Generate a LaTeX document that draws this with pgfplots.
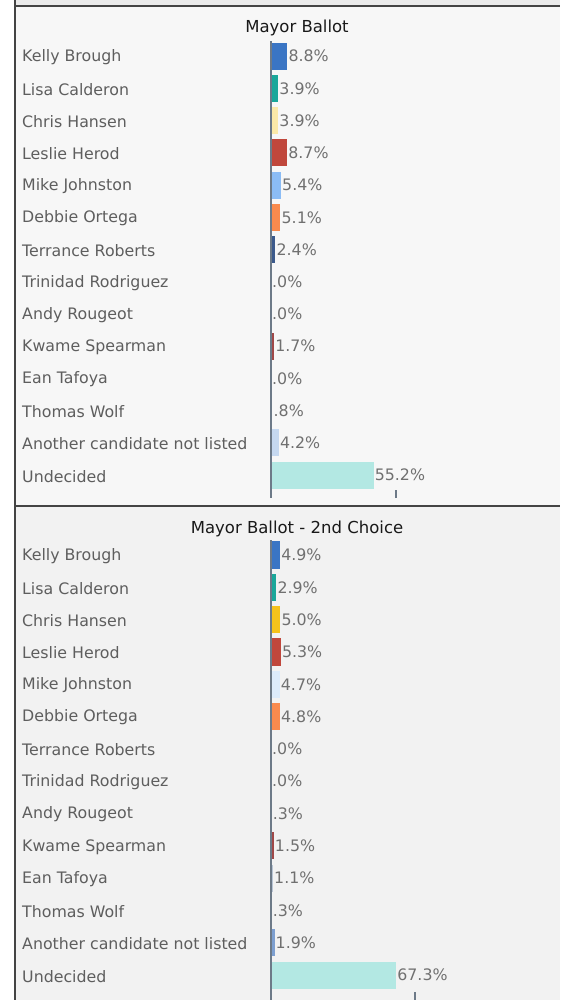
\documentclass[border=0pt]{standalone}
\usepackage{pgfplots}
\pgfplotsset{compat=1.18}
\usepackage{fontspec}
\setmainfont{DejaVu Sans}
\definecolor{cKB}{HTML}{3A75C4}
\definecolor{cLC}{HTML}{1AA79A}
\definecolor{cCH}{HTML}{FBE9A8}
\definecolor{cCH2}{HTML}{F5C21B}
\definecolor{cLH}{HTML}{C0473C}
\definecolor{cMJ}{HTML}{8BBCF5}
\definecolor{cMJ2}{HTML}{DCEBFB}
\definecolor{cDO}{HTML}{F98A4E}
\definecolor{cTR}{HTML}{3C5A8C}
\definecolor{cKS}{HTML}{A04848}
\definecolor{cET}{HTML}{B8C4D4}
\definecolor{cTW}{HTML}{C8C8C8}
\definecolor{cAC}{HTML}{C5D8F0}
\definecolor{cAC2}{HTML}{7D9FD0}
\definecolor{cUN}{HTML}{B3E8E3}
\definecolor{lbl}{HTML}{5E5E5E}
\definecolor{vlbl}{HTML}{707070}
\definecolor{axgray}{HTML}{6D7A88}
\definecolor{frame}{HTML}{444444}
\pgfplotsset{
  panel/.style={
    scale only axis, width=279pt,
    xmin=0, xmax=150, y dir=reverse,
    axis line style={draw=none},
    xtick=\empty,
    ytick={0,...,13},
    yticklabels={Kelly Brough,Lisa Calderon,Chris Hansen,Leslie Herod,Mike Johnston,Debbie Ortega,Terrance Roberts,Trinidad Rodriguez,Andy Rougeot,Kwame Spearman,Ean Tafoya,Thomas Wolf,Another candidate not listed,Undecided},
    ytick style={draw=none},
    yticklabel style={anchor=west, xshift=-249pt, yshift=-1pt, inner sep=0pt, font=\fontsize{15.8}{18}\selectfont, text=lbl},
    clip=false,
  },
  bar/.style={xbar, bar width=0.84, bar shift=0pt, draw=none, fill=#1,
    nodes near coords, point meta=explicit symbolic,
    every node near coord/.append style={anchor=west, inner sep=1pt, font=\fontsize{15.8}{18}\selectfont, text=vlbl}},
}
\begin{document}
\begin{tikzpicture}[x=1pt,y=1pt]
\useasboundingbox (0,0) rectangle (560,-1000);
\fill[white] (0,0) rectangle (560,-1000);
\fill[black!8] (15,0) rectangle (560,-6);
\fill[black!3] (15,-6) rectangle (560,-506);
\fill[black!5] (15,-506) rectangle (560,-1000);
\draw[frame, line width=2pt] (15,0) -- (15,-1000);
\draw[frame, line width=2pt] (15,-6) -- (560,-6);
\draw[frame, line width=2pt] (15,-506) -- (560,-506);
\node[font=\fontsize{16.5}{19}\selectfont, text=black!90, anchor=base] at (297,-33) {Mayor Ballot};
\node[font=\fontsize{16.5}{19}\selectfont, text=black!90, anchor=base] at (297,-533) {Mayor Ballot - 2nd Choice};

\begin{axis}[panel, at={(271pt,-41pt)}, anchor=north west, height=457pt, ymin=-0.47, ymax=13.71]
\addplot[bar=cKB] coordinates {(8.8,0) [8.8\%]};
\addplot[bar=cLC] coordinates {(3.9,1) [3.9\%]};
\addplot[bar=cCH] coordinates {(3.9,2) [3.9\%]};
\addplot[bar=cLH] coordinates {(8.7,3) [8.7\%]};
\addplot[bar=cMJ] coordinates {(5.4,4) [5.4\%]};
\addplot[bar=cDO] coordinates {(5.1,5) [5.1\%]};
\addplot[bar=cTR] coordinates {(2.4,6) [2.4\%]};
\addplot[bar=cTW] coordinates {(0,7) [.0\%]};
\addplot[bar=cTW] coordinates {(0,8) [.0\%]};
\addplot[bar=cKS] coordinates {(1.7,9) [1.7\%]};
\addplot[bar=cET] coordinates {(0,10) [.0\%]};
\addplot[bar=cTW] coordinates {(0.8,11) [.8\%]};
\addplot[bar=cAC] coordinates {(4.2,12) [4.2\%]};
\addplot[bar=cUN] coordinates {(55.2,13) [55.2\%]};
\draw[axgray, line width=2pt] (axis cs:0,-0.47) -- (axis cs:0,13.71);
\draw[axgray, line width=1.5pt] (axis cs:67.2,13.71) -- ++(0pt,8pt);
\end{axis}

\begin{axis}[panel, at={(271pt,-540pt)}, anchor=north west, height=460pt, ymin=-0.464, ymax=13.77]
\addplot[bar=cKB] coordinates {(4.9,0) [4.9\%]};
\addplot[bar=cLC] coordinates {(2.9,1) [2.9\%]};
\addplot[bar=cCH2] coordinates {(5.0,2) [5.0\%]};
\addplot[bar=cLH] coordinates {(5.3,3) [5.3\%]};
\addplot[bar=cMJ2] coordinates {(4.7,4) [4.7\%]};
\addplot[bar=cDO] coordinates {(4.8,5) [4.8\%]};
\addplot[bar=cTR] coordinates {(0,6) [.0\%]};
\addplot[bar=cTW] coordinates {(0,7) [.0\%]};
\addplot[bar=cTW] coordinates {(0.3,8) [.3\%]};
\addplot[bar=cKS] coordinates {(1.5,9) [1.5\%]};
\addplot[bar=cET] coordinates {(1.1,10) [1.1\%]};
\addplot[bar=cTW] coordinates {(0.3,11) [.3\%]};
\addplot[bar=cAC2] coordinates {(1.9,12) [1.9\%]};
\addplot[bar=cUN] coordinates {(67.3,13) [67.3\%]};
\draw[axgray, line width=2pt] (axis cs:0,-0.464) -- (axis cs:0,13.77);
\draw[axgray, line width=1.5pt] (axis cs:77.4,13.77) -- ++(0pt,8pt);
\end{axis}
\end{tikzpicture}
\end{document}
